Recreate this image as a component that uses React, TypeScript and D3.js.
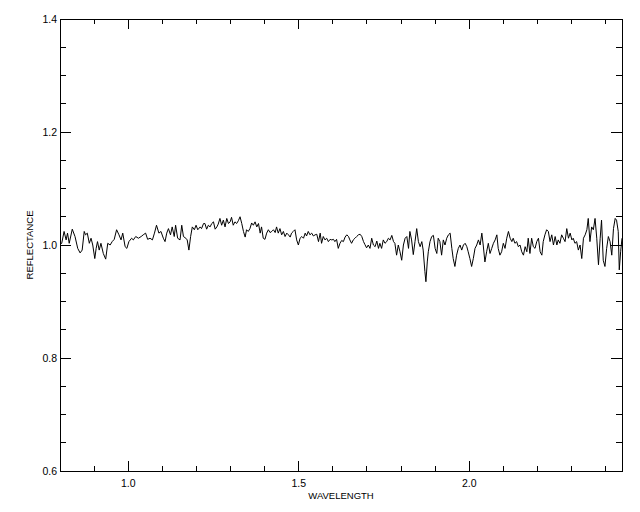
import React from "react";
import * as d3 from "d3";

const wavelength = [
  0.800, 0.805, 0.812, 0.818, 0.822, 0.827, 0.836, 0.844, 0.852, 0.859, 0.865, 0.871, 0.875, 0.880, 0.886, 0.891,
  0.896, 0.902, 0.906, 0.910, 0.915, 0.920, 0.927, 0.934, 0.940, 0.947, 0.953, 0.959, 0.966, 0.973, 0.979, 0.984,
  0.991, 0.996, 1.002, 1.010, 1.015, 1.022, 1.030, 1.038, 1.044, 1.051, 1.057, 1.064, 1.071, 1.077, 1.083, 1.090,
  1.096, 1.103, 1.108, 1.113, 1.118, 1.124, 1.129, 1.135, 1.139, 1.145, 1.152, 1.157, 1.162, 1.169, 1.173, 1.178,
  1.183, 1.188, 1.194, 1.199, 1.204, 1.211, 1.215, 1.221,
  1.225, 1.230, 1.235, 1.240, 1.245, 1.250, 1.255, 1.260, 1.264, 1.269, 1.274, 1.279, 1.284, 1.289, 1.294, 1.299,
  1.303, 1.308, 1.313, 1.318, 1.323, 1.328, 1.333, 1.338, 1.343, 1.347, 1.352, 1.357, 1.362, 1.367, 1.372, 1.377,
  1.382, 1.387, 1.391, 1.396, 1.401, 1.406, 1.411, 1.416, 1.421, 1.426, 1.431, 1.435, 1.440, 1.445, 1.450, 1.455,
  1.460, 1.465, 1.470, 1.475, 1.479, 1.484, 1.489, 1.494, 1.499, 1.504, 1.509, 1.514, 1.519, 1.523, 1.528, 1.533,
  1.538, 1.543, 1.548, 1.553, 1.558, 1.563, 1.567, 1.572, 1.577, 1.582, 1.587, 1.592, 1.597, 1.602, 1.606, 1.611,
  1.616, 1.621, 1.626, 1.631, 1.636, 1.641, 1.646, 1.650,
  1.655, 1.660, 1.665, 1.670, 1.675, 1.680, 1.685, 1.690, 1.694, 1.699, 1.704, 1.709, 1.714, 1.719, 1.724, 1.729,
  1.734, 1.738, 1.743, 1.748, 1.753, 1.758, 1.763, 1.768, 1.773, 1.778, 1.782, 1.787, 1.792, 1.797, 1.802, 1.807,
  1.812, 1.817, 1.822, 1.826, 1.831, 1.836, 1.841, 1.846, 1.851, 1.856, 1.861, 1.865, 1.870, 1.873, 1.877, 1.880,
  1.885, 1.890, 1.895, 1.900, 1.905, 1.909, 1.914, 1.919, 1.924, 1.929, 1.934, 1.939, 1.944, 1.949, 1.953, 1.958,
  1.963, 1.968, 1.973, 1.978, 1.983, 1.988, 1.993, 1.997, 2.002, 2.007, 2.012, 2.017, 2.022, 2.027, 2.032, 2.037,
  2.041, 2.046, 2.051, 2.056, 2.061, 2.066, 2.071,
  2.076, 2.081, 2.085, 2.090, 2.095, 2.100, 2.105, 2.110, 2.115, 2.120, 2.125, 2.129, 2.134, 2.139, 2.144, 2.149,
  2.154, 2.159, 2.164, 2.169, 2.173, 2.178, 2.183, 2.188, 2.193, 2.198, 2.203, 2.208, 2.213, 2.217, 2.222, 2.227,
  2.232, 2.237, 2.242, 2.247, 2.252, 2.257, 2.261, 2.266, 2.271, 2.276, 2.281, 2.286, 2.291, 2.296, 2.301, 2.305,
  2.310, 2.315, 2.320, 2.325, 2.330, 2.335, 2.340, 2.345, 2.349, 2.354, 2.359, 2.364, 2.369, 2.374, 2.379, 2.384,
  2.388, 2.393, 2.398, 2.403, 2.408, 2.413, 2.418, 2.423, 2.428, 2.432, 2.437, 2.440, 2.444, 2.448,
];

const reflectance = [
  1.000, 1.003, 1.024, 1.009, 1.021, 1.003, 1.028, 1.015, 0.994, 0.986, 0.991, 1.024, 1.018, 1.021, 1.003, 1.012,
  1.000, 0.976, 0.994, 1.006, 0.991, 1.003, 0.985, 0.975, 1.003, 1.000, 1.006, 1.010, 1.027, 1.018, 1.009, 1.021,
  0.997, 0.994, 1.006, 1.012, 1.009, 1.015, 1.012, 1.015, 1.018, 1.021, 1.010, 1.012, 1.009, 1.021, 1.035, 1.021,
  1.024, 1.012, 1.006, 1.021, 1.029, 1.018, 1.032, 1.015, 1.035, 1.012, 1.009, 1.035, 1.015, 1.012, 1.009, 0.991,
  1.015, 1.032, 1.027, 1.035, 1.027, 1.032, 1.029, 1.038,
  1.038, 1.028, 1.035, 1.032, 1.038, 1.041, 1.028, 1.032, 1.037, 1.047, 1.035, 1.044, 1.032, 1.047, 1.038, 1.041,
  1.049, 1.035, 1.041, 1.038, 1.043, 1.050, 1.038, 1.024, 1.014, 1.027, 1.024, 1.029, 1.039, 1.035, 1.041, 1.032,
  1.038, 1.021, 1.032, 1.012, 1.010, 1.021, 1.027, 1.022, 1.024, 1.027, 1.022, 1.032, 1.021, 1.029, 1.018, 1.024,
  1.015, 1.021, 1.018, 1.014, 1.021, 1.024, 1.027, 1.009, 1.000, 1.012, 1.015, 1.012, 1.021, 1.016, 1.024, 1.018,
  1.021, 1.016, 1.018, 1.019, 1.006, 1.021, 1.003, 1.015, 1.009, 1.012, 1.006, 1.010, 1.009, 1.010, 1.006, 1.010,
  0.994, 1.003, 1.008, 1.006, 1.014, 1.018, 1.015, 1.009,
  1.003, 1.009, 1.012, 1.015, 1.018, 1.019, 1.015, 1.006, 1.001, 0.995, 1.000, 0.994, 1.012, 1.000, 0.997, 1.007,
  0.994, 1.003, 0.994, 1.009, 1.003, 1.006, 1.012, 1.009, 1.017, 1.006, 1.003, 0.982, 1.000, 0.988, 0.973, 1.000,
  1.012, 1.015, 0.994, 1.024, 1.009, 0.983, 1.006, 1.029, 1.006, 0.997, 1.006, 0.991, 0.953, 0.935, 0.970, 0.988,
  1.006, 1.015, 1.017, 0.994, 0.985, 1.012, 1.006, 0.982, 1.009, 1.000, 1.012, 1.018, 1.021, 0.994, 0.976, 0.962,
  0.982, 0.994, 1.000, 0.991, 1.000, 1.003, 0.997, 0.988, 0.976, 0.962, 0.976, 0.994, 1.000, 1.009, 1.000, 1.021,
  1.000, 0.970, 0.988, 1.003, 0.985, 0.994, 1.003,
  1.009, 1.018, 0.994, 0.982, 0.988, 1.003, 0.994, 1.012, 1.024, 1.012, 1.006, 1.012, 1.003, 1.006, 0.997, 1.000,
  0.988, 0.982, 0.997, 0.988, 1.012, 0.985, 1.012, 0.997, 0.994, 1.006, 1.012, 0.988, 0.982, 1.006, 1.018, 1.027,
  1.024, 1.006, 1.018, 1.000, 1.015, 1.000, 1.009, 1.003, 1.018, 1.012, 1.006, 1.029, 1.012, 1.021, 1.009, 1.012,
  1.003, 1.006, 0.991, 1.000, 0.976, 1.012, 1.018, 1.027, 1.047, 1.006, 1.032, 1.027, 1.047, 1.012, 0.965, 1.012,
  1.044, 0.973, 0.962, 0.994, 1.015, 1.006, 0.982, 1.029, 1.047, 1.044, 1.024, 0.956, 0.988, 1.012,
];

const xMajorTicks = [1.0, 1.5, 2.0];
const xMinorTicks = [0.9, 1.1, 1.2, 1.3, 1.4, 1.6, 1.7, 1.8, 1.9, 2.1, 2.2, 2.3, 2.4];
const yMajorTicks = [0.6, 0.8, 1.0, 1.2, 1.4];
const yMinorTicks = [0.65, 0.7, 0.75, 0.85, 0.9, 0.95, 1.05, 1.1, 1.15, 1.25, 1.3, 1.35];
const xTitle = "WAVELENGTH";
const yTitle = "REFLECTANCE";

export default function App() {
  const W = 640, H = 512;
  const L = 60, R = 622, T = 19, B = 471;
  const x = d3.scaleLinear().domain([0.8, 2.448]).range([L, R]);
  const y = d3.scaleLinear().domain([0.6, 1.4]).range([B, T]);
  const pts = wavelength.map((w, i) => [w, reflectance[i]] as [number, number]);
  const line = d3.line<[number, number]>().x((d) => x(d[0])).y((d) => y(d[1]));
  const font = "'Liberation Sans', Arial, sans-serif";
  const xMaj = 10, xMin = 5, yMaj = 11, yMin = 6;

  return (
    <svg width={W} height={H} style={{ position: "absolute", left: 0, top: 0, background: "#fff" }}>
      <rect x={0} y={0} width={W} height={H} fill="#fff" />
      <g stroke="#000" strokeWidth={1} shapeRendering="crispEdges" fill="none">
        <rect x={L} y={T} width={R - L} height={B - T} />
        {xMajorTicks.map((t) => (
          <g key={"xM" + t}>
            <line x1={x(t)} x2={x(t)} y1={B} y2={B - xMaj} />
            <line x1={x(t)} x2={x(t)} y1={T} y2={T + xMaj} />
          </g>
        ))}
        {xMinorTicks.map((t) => (
          <g key={"xm" + t}>
            <line x1={x(t)} x2={x(t)} y1={B} y2={B - xMin} />
            <line x1={x(t)} x2={x(t)} y1={T} y2={T + xMin} />
          </g>
        ))}
        {yMajorTicks.map((t) => (
          <g key={"yM" + t}>
            <line x1={L} x2={L + yMaj} y1={y(t)} y2={y(t)} />
            <line x1={R} x2={R - yMaj} y1={y(t)} y2={y(t)} />
          </g>
        ))}
        {yMinorTicks.map((t) => (
          <g key={"ym" + t}>
            <line x1={L} x2={L + yMin} y1={y(t)} y2={y(t)} />
            <line x1={R} x2={R - yMin} y1={y(t)} y2={y(t)} />
          </g>
        ))}
      </g>
      <path d={line(pts) || ""} fill="none" stroke="#000" strokeWidth={1} />
      <g fontFamily={font} fontSize={10.5} fill="#000">
        {xMajorTicks.map((t) => (
          <text key={"xl" + t} x={x(t)} y={487} textAnchor="middle">
            {t.toFixed(1)}
          </text>
        ))}
        {yMajorTicks.map((t) => (
          <text key={"yl" + t} x={57} y={y(t) + 1} textAnchor="end" dominantBaseline="middle">
            {t.toFixed(1)}
          </text>
        ))}
      </g>
      <text x={(L + R) / 2} y={499} textAnchor="middle" fontFamily={font} fontSize={9.5} fill="#000">
        {xTitle}
      </text>
      <text
        transform={`translate(33, ${(T + B) / 2}) rotate(-90)`}
        textAnchor="middle"
        fontFamily={font}
        fontSize={9.5}
        fill="#000"
      >
        {yTitle}
      </text>
    </svg>
  );
}
